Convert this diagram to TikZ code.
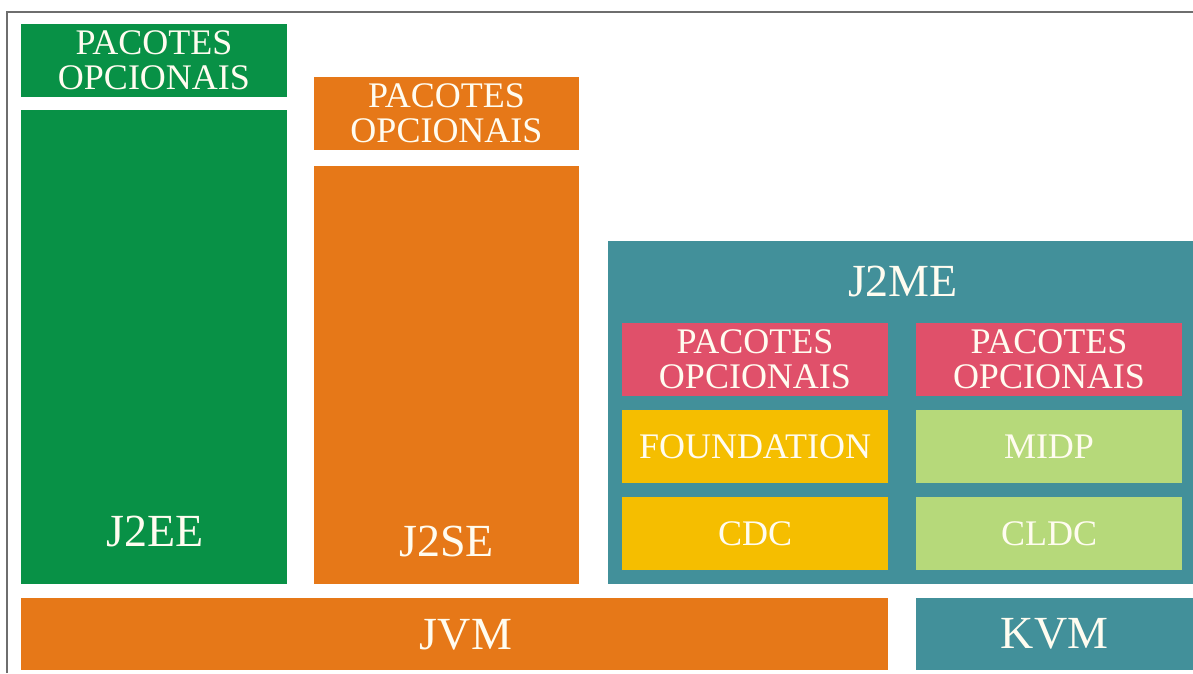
\documentclass[tikz,border=0pt]{standalone}
\usepackage{fontspec}
\setmainfont{Liberation Serif}
\definecolor{cgreen}{RGB}{8,145,70}
\definecolor{corange}{RGB}{230,120,24}
\definecolor{cteal}{RGB}{66,144,154}
\definecolor{cred}{RGB}{224,80,106}
\definecolor{cyellow}{RGB}{245,190,0}
\definecolor{clight}{RGB}{182,217,122}
\definecolor{ctext}{RGB}{255,252,240}
\definecolor{cframe}{RGB}{110,110,110}
\tikzset{
  blk/.style={draw=none, inner sep=0pt, outer sep=0pt, text=ctext, align=center},
  small/.style={font=\fontsize{36}{35}\selectfont},
  big/.style={font=\fontsize{46}{48}\selectfont},
  lbl/.style={text=ctext, inner sep=0pt, align=center},
}
\begin{document}
\begin{tikzpicture}[x=1pt,y=-1pt]
\useasboundingbox (0,0) rectangle (1193,673);
\fill[white] (0,0) rectangle (1193,673);
% frame
\coordinate (f1) at (7,673);
\coordinate (f2) at (7,12);
\coordinate (f3) at (1193,12);
\draw[cframe, line width=2pt] (f1) -- (f2) -- (f3);
% J2EE column
\node[blk, small, fill=cgreen, minimum width=266pt, minimum height=73pt] (pe) at (154,60.5) {PACOTES\\OPCIONAIS};
\node[blk, fill=cgreen, minimum width=266pt, minimum height=474pt] (j2ee) at (154,347) {};
\node[lbl, big] (j2eet) at (155,531) {J2EE};
% J2SE column
\node[blk, small, fill=corange, minimum width=265pt, minimum height=73pt] (ps) at (446.5,113.5) {PACOTES\\OPCIONAIS};
\node[blk, fill=corange, minimum width=265pt, minimum height=418pt] (j2se) at (446.5,375) {};
\node[lbl, big] (j2set) at (446.5,541) {J2SE};
% J2ME
\node[blk, fill=cteal, minimum width=585pt, minimum height=343pt] (j2me) at (900.5,412.5) {};
\node[lbl, big] (j2met) at (903,281) {J2ME};
\node[blk, small, fill=cred, minimum width=266pt, minimum height=73pt] (pl) at (755,359.5) {PACOTES\\OPCIONAIS};
\node[blk, small, fill=cred, minimum width=266pt, minimum height=73pt] (pr) at (1049,359.5) {PACOTES\\OPCIONAIS};
\node[blk, small, fill=cyellow, minimum width=266pt, minimum height=73pt] (found) at (755,446.5) {FOUNDATION};
\node[blk, small, fill=clight, minimum width=266pt, minimum height=73pt] (midp) at (1049,446.5) {MIDP};
\node[blk, small, fill=cyellow, minimum width=266pt, minimum height=73pt] (cdc) at (755,533.5) {CDC};
\node[blk, small, fill=clight, minimum width=266pt, minimum height=73pt] (cldc) at (1049,533.5) {CLDC};
% VMs
\node[blk, fill=corange, minimum width=867pt, minimum height=72pt] (jvm) at (454.5,634) {};
\node[lbl, big] (jvmt) at (466,635) {JVM};
\node[blk, big, fill=cteal, minimum width=277pt, minimum height=72pt] (kvm) at (1054.5,634) {KVM};
\end{tikzpicture}
\end{document}
